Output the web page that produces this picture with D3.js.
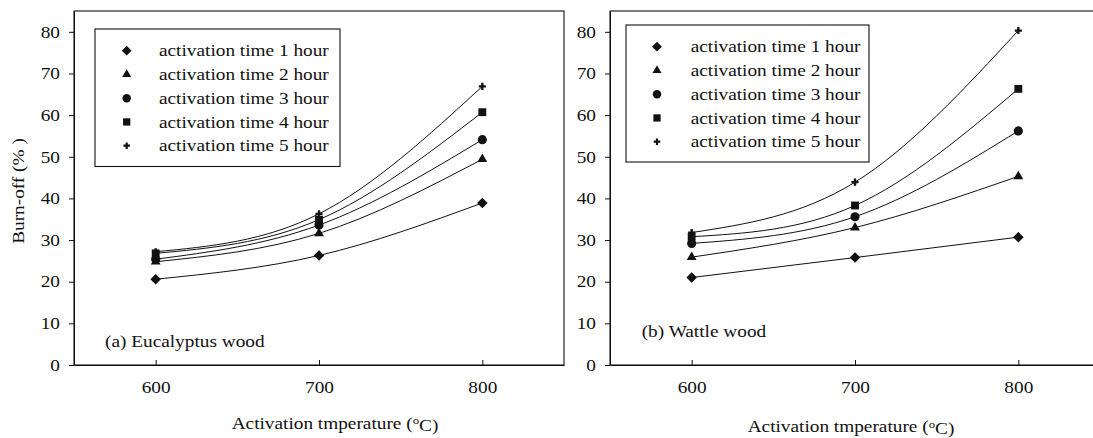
<!DOCTYPE html>
<html>
<head>
<meta charset="utf-8">
<script src="https://cdn.jsdelivr.net/npm/d3@7"></script>
<style>
  html, body { margin: 0; padding: 0; background: #fff; }
  svg { display: block; }
  text { font-family: "Liberation Serif", "Times New Roman", "DejaVu Serif", serif; fill: #111; }
</style>
</head>
<body>
<svg id="chart" width="1093" height="438"></svg>
<script>
// Activation temperatures (°C)
const temperatures = [600, 700, 800];

// Series labels (activation time)
const seriesNames = [
  "activation time 1 hour",
  "activation time 2 hour",
  "activation time 3 hour",
  "activation time 4 hour",
  "activation time 5 hour"
];

// Burn-off (%) — Eucalyptus wood
const eucalyptus1h = [20.6, 26.3, 38.9];
const eucalyptus2h = [24.8, 31.6, 49.4];
const eucalyptus3h = [25.4, 33.6, 54.1];
const eucalyptus4h = [26.8, 34.9, 60.7];
const eucalyptus5h = [27.2, 36.3, 66.9];

// Burn-off (%) — Wattle wood
const wattle1h = [21.0, 25.8, 30.7];
const wattle2h = [25.9, 33.0, 45.3];
const wattle3h = [29.2, 35.6, 56.2];
const wattle4h = [30.8, 38.3, 66.3];
const wattle5h = [31.8, 43.9, 80.3];

const yTicks = [0, 10, 20, 30, 40, 50, 60, 70, 80];
const xTicks = [600, 700, 800];

const svg = d3.select("#chart");
const ink = "#111";
const fontSize = "16.5px";
const widen = 1.17; // horizontal stretch of the serif lettering

// Marker shapes per series: diamond, triangle, circle, square, plus
const diamond = {
  draw(ctx, size) {
    const r = Math.sqrt(size / 2);
    ctx.moveTo(0, -r); ctx.lineTo(r, 0); ctx.lineTo(0, r); ctx.lineTo(-r, 0); ctx.closePath();
  }
};
const markerTypes = [diamond, d3.symbolTriangle, d3.symbolCircle, d3.symbolSquare, d3.symbolCross];
const markerSizes = [56, 42, 66, 62, 28];

// Place a text at (x, y), widened along its baseline
function label(parent, x, y, str, anchor, rotate) {
  const t = parent.append("text")
    .attr("transform", `translate(${x},${y})${rotate ? ` rotate(${rotate})` : ""} scale(${widen},1)`)
    .attr("dy", "0.35em")
    .attr("text-anchor", anchor || "start")
    .style("font-size", fontSize);
  if (str !== null) t.text(str);
  return t;
}

function widenTicks(axisG) {
  axisG.selectAll(".tick text").each(function () {
    const t = d3.select(this);
    const x = +t.attr("x") || 0, y = +t.attr("y") || 0;
    t.attr("x", 0).attr("y", 0)
      .attr("transform", `translate(${x},${y}) scale(${widen},1)`)
      .style("font-family", '"Liberation Serif", "Times New Roman", serif')
      .style("font-size", fontSize).attr("fill", ink);
  });
}

function drawPanel(opt) {
  const { left, top, width, height, series, legendBox, legendRows, tag, xTitle } = opt;
  const g = svg.append("g");

  const x = d3.scaleLinear().domain([550, 850]).range([left, left + width]);
  const y = d3.scaleLinear().domain([0, 85]).range([top + height, top]);

  // frame
  g.append("rect")
    .attr("x", left).attr("y", top).attr("width", width).attr("height", height)
    .attr("fill", "none").attr("stroke", ink).attr("stroke-width", 1.1);

  // axes
  const yAxis = g.append("g").attr("transform", `translate(${left},0)`)
    .call(d3.axisLeft(y).tickValues(yTicks).tickSize(5).tickSizeOuter(0).tickPadding(9));
  const xAxis = g.append("g").attr("transform", `translate(0,${top + height})`)
    .call(d3.axisBottom(x).tickValues(xTicks).tickSize(-5).tickSizeOuter(0).tickPadding(16));
  [yAxis, xAxis].forEach(a => {
    a.select(".domain").attr("stroke", ink);
    a.selectAll(".tick line").attr("stroke", ink);
    widenTicks(a);
  });

  // curves and markers
  const line = d3.line()
    .x((d, i) => x(temperatures[i]))
    .y(d => y(d))
    .curve(d3.curveNatural);

  series.forEach(vals => {
    g.append("path").datum(vals)
      .attr("d", line).attr("fill", "none")
      .attr("stroke", ink).attr("stroke-width", 1);
  });
  series.forEach((vals, s) => {
    g.selectAll(null).data(vals).enter().append("path")
      .attr("transform", (d, i) => `translate(${x(temperatures[i])},${y(d)})`)
      .attr("d", d3.symbol().type(markerTypes[s]).size(markerSizes[s]))
      .attr("fill", ink);
  });

  // legend
  g.append("rect")
    .attr("x", legendBox.x).attr("y", legendBox.y)
    .attr("width", legendBox.w).attr("height", legendBox.h)
    .attr("fill", "#fff").attr("stroke", ink).attr("stroke-width", 1.1);
  seriesNames.forEach((name, s) => {
    const cy = legendRows.y0 + s * legendRows.step;
    g.append("path")
      .attr("transform", `translate(${legendRows.sx},${cy})`)
      .attr("d", d3.symbol().type(markerTypes[s]).size(markerSizes[s] * 0.85))
      .attr("fill", ink);
    label(g, legendRows.tx, cy, name);
  });

  // panel tag
  label(g, tag.x, tag.y, tag.text);

  // x-axis title
  const xt = label(g, xTitle.x, xTitle.y, null, "middle");
  xt.append("tspan").text("Activation tmperature (");
  xt.append("tspan").attr("dy", "-0.4em").style("font-size", "11px").text("o");
  xt.append("tspan").attr("dy", "0.4em").text("C)");
}

drawPanel({
  left: 74, top: 11, width: 490, height: 354,
  series: [eucalyptus1h, eucalyptus2h, eucalyptus3h, eucalyptus4h, eucalyptus5h],
  legendBox: { x: 95, y: 29, w: 245, h: 137.5 },
  legendRows: { y0: 50.7, step: 23.75, sx: 126.7, tx: 159 },
  tag: { x: 105, y: 341.7, text: "(a) Eucalyptus wood" },
  xTitle: { x: 335, y: 423 }
});

drawPanel({
  left: 610, top: 11, width: 490, height: 354,
  series: [wattle1h, wattle2h, wattle3h, wattle4h, wattle5h],
  legendBox: { x: 626, y: 25, w: 243, h: 137 },
  legendRows: { y0: 46.7, step: 23.75, sx: 657, tx: 690.7 },
  tag: { x: 641.7, y: 331.7, text: "(b) Wattle wood" },
  xTitle: { x: 851, y: 426.5 }
});

// shared y-axis title
label(svg, 18, 191, "Burn-off (% )", "middle", -90);
</script>
</body>
</html>
